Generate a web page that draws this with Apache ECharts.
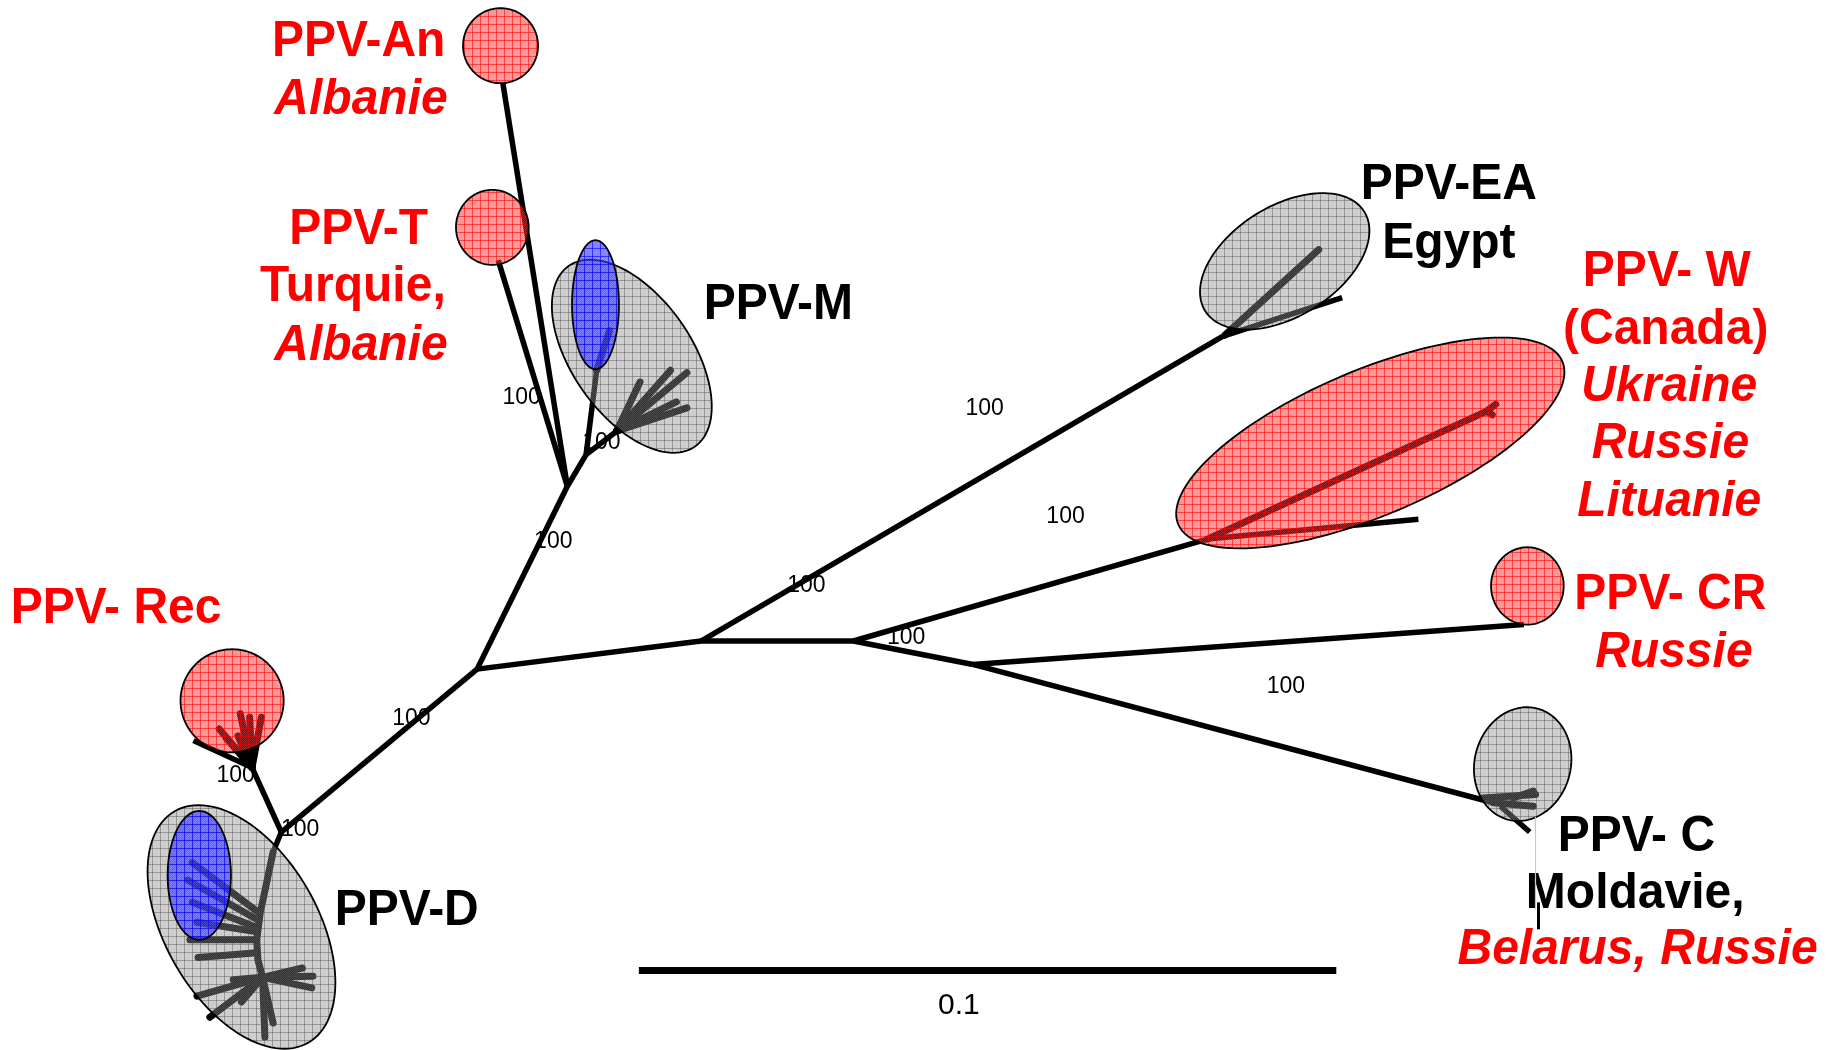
<!DOCTYPE html>
<html><head><meta charset="utf-8">
<script src="https://cdn.jsdelivr.net/npm/echarts@6/dist/echarts.min.js"></script>
<style>html,body{margin:0;padding:0;background:#fff;}#c{width:1838px;height:1050px;}</style>
</head><body><div id="c"></div>
<script>
// ---- data (tree-space units: x 0..1568, y 0..896, y grows downward) ----
const mainBranches = [
  [[598,547],[728,547]],
  [[598,547],[407,571]],
  [[598,547],[1043,287]],
  [[1043,287],[1145,254]],
  [[728,547],[1030,460]],
  [[1030,460],[1210,443]],
  [[728,547],[830,567]],
  [[830,567],[1300,533]],
  [[830,567],[1274,685]],
  [[407,571],[484,415]],
  [[484,415],[429,71]],
  [[484,415],[425,222]],
  [[484,415],[500,388]],
  [[500,388],[526,368]],
  [[500,388],[509,316]],
  [[407,571],[240,710]],
  [[240,710],[215,655]],
  [[215,655],[165,632]],
  [[240,710],[233,727]],
  [[1280,688],[1305,710]]
];
const cladeBranches = [
  [[509,316],[520,282]],
  [[526,368],[546,326]], [[526,368],[572,316]], [[526,368],[586,318]], [[526,368],[577,343]], [[526,368],[586,348]],
  [[215,655],[205,609]], [[215,655],[213,612]], [[215,655],[223,612]], [[215,655],[187,622]], [[215,655],[193,630]], [[215,655],[203,628]],
  [[233,727],[222,779],[219,802],[220,819],[224,834]],
  [[221,779],[164,736]], [[220,785],[160,751]], [[218,791],[164,770]], [[218,795],[168,787]], [[219,802],[162,802]], [[219,813],[169,817]],
  [[224,834],[168,850]], [[224,834],[179,868]], [[224,834],[267,833]], [[224,834],[266,843]], [[224,834],[226,885]],
  [[224,834],[233,873]], [[224,834],[206,855]], [[224,834],[199,836]], [[224,834],[258,826]],
  [[1045,286],[1125,213]],
  [[1030,460],[1268,351]], [[1268,351],[1276,345]], [[1268,351],[1273,354]],
  [[1265,681],[1310,678]], [[1274,685],[1308,688]], [[1291,681],[1308,675]]
];
// clade name, centre x, centre y, radius a, radius b, tilt (deg), group
const clades = [
  ['PPV-M', 539,304, 94,51, 55, 'grey'],
  ['PPV-M (sub)', 508,260, 20,55, 0, 'blue'],
  ['PPV-D', 206,791, 114,65, 60, 'grey'],
  ['PPV-D (sub)', 170,747, 27,55, 0, 'blue'],
  ['PPV-An', 427,39, 32,32, 0, 'red'],
  ['PPV-T', 420,194, 31,32, 0, 'red'],
  ['PPV-Rec', 198,598, 44,44, 0, 'red'],
  ['PPV-EA', 1096,223, 80,47, -32, 'grey'],
  ['PPV-W', 1169,378, 178,62, -23, 'red'],
  ['PPV-CR', 1303,500, 31,33, 0, 'red'],
  ['PPV-C', 1299,652, 49,41, -75, 'grey']
];
const redNames = [['PPV-An',306,36],['PPV-T',306,196],['Turquie,',301,245],['PPV- Rec',99,520],['PPV- W',1422,232],['(Canada)',1421,282],['PPV- CR',1425,508]];
const redCountries = [['Albanie',308,85],['Albanie',308,295],['Ukraine',1424,330],['Russie',1425,379],['Lituanie',1424,428],['Russie',1428,557],['Belarus, Russie',1397,811]];
const blackNames = [['PPV-M',664,260],['PPV-D',347,777],['PPV-EA',1236,158],['Egypt',1236,208],['PPV- C',1396,714],['Moldavie,',1395,763]];
const bootstrapValues = [100,100,100,100,100,100,100,100,100,100,100];
const bootstrapAt = [[445,339],[513,378],[472,462],[351,613],[201,662],[256,708],[840,349],[909,441],[688,500],[773,544],[1097,586]];
const scaleBar = [[545,828],[1140,828]];
const scaleValue = '0.1';
const scaleLabelAt = [818,858];
const cArtifactThin = [[1310,697],[1310,776]];
const cArtifactBold = [[1312,770],[1312,793]];

// ---- styles ----
function makePattern(base, dot, line){
  const s=8, cv=document.createElement('canvas'); cv.width=s; cv.height=s;
  const g=cv.getContext('2d');
  g.fillStyle=base; g.fillRect(0,0,s,s);
  g.fillStyle=dot; for(let i=0;i<s;i++)for(let j=0;j<s;j++) if((i+j)%2===0) g.fillRect(i,j,1,1);
  g.fillStyle=line; g.fillRect(0,0,s,1); g.fillRect(0,0,1,s);
  return {image: cv, repeat:'repeat'};
}
const fills = {
  grey: makePattern('rgba(125,125,125,0.40)','rgba(255,255,255,0.12)','rgba(70,70,70,0.40)'),
  red:  makePattern('rgba(255,30,30,0.50)','rgba(255,255,255,0.12)','rgba(255,0,0,0.55)'),
  blue: makePattern('rgba(40,40,255,0.60)','rgba(255,255,255,0.10)','rgba(0,0,255,0.6)')
};
const FONT = "'Liberation Sans', Arial, Helvetica, sans-serif";
const textGroups = [
  {items: redNames, fill:'#ff0000', font:'bold 48px '+FONT},
  {items: redCountries, fill:'#ff0000', font:'italic bold 48px '+FONT},
  {items: blackNames, fill:'#000000', font:'bold 48px '+FONT}
];

function ellipsePoints(c, api){
  const cx=c[1], cy=c[2], a=c[3], b=c[4], th=c[5]*Math.PI/180;
  const ct=Math.cos(th), st=Math.sin(th), pts=[];
  for(let i=0;i<120;i++){
    const t=i/120*2*Math.PI, ex=a*Math.cos(t), ey=b*Math.sin(t);
    pts.push(api.coord([cx+ex*ct-ey*st, cy+ex*st+ey*ct]));
  }
  return pts;
}
function textSeries(group, z){
  return {
    type:'custom', coordinateSystem:'cartesian2d', z:z, silent:true,
    data: group.items.map(d=>[d[1],d[2]]),
    renderItem:(params, api)=>{
      const d=group.items[params.dataIndex], p=api.coord([d[1],d[2]]);
      return {type:'text', x:p[0], y:p[1], scaleY:1.06, style:{text:d[0], fill:group.fill, font:group.font, align:'center', verticalAlign:'middle'}};
    }
  };
}

const chart = echarts.init(document.getElementById('c'), null, {renderer:'canvas'});
const series = [
  { // bootstrap values (below branches)
    type:'custom', coordinateSystem:'cartesian2d', z:1, silent:true,
    data: bootstrapAt.map(p=>[p[0],p[1]]),
    renderItem:(params, api)=>{
      const p=api.coord(bootstrapAt[params.dataIndex]);
      return {type:'text', x:p[0], y:p[1], style:{text:String(bootstrapValues[params.dataIndex]), fill:'#000', font:'23px '+FONT, align:'center', verticalAlign:'middle'}};
    }
  },
  { type:'lines', coordinateSystem:'cartesian2d', polyline:true, z:2, silent:true,
    lineStyle:{color:'#000', width:5.5, opacity:1, cap:'butt', join:'round'},
    data: mainBranches.map(c=>({coords:c})) },
  { type:'lines', coordinateSystem:'cartesian2d', polyline:true, z:2, silent:true,
    lineStyle:{color:'#000', width:7, opacity:1, cap:'round', join:'round'},
    data: cladeBranches.map(c=>({coords:c})) },
  { type:'custom', coordinateSystem:'cartesian2d', z:3, silent:true,
    data: clades.map(c=>[c[1],c[2]]),
    renderItem:(params, api)=>{
      const c=clades[params.dataIndex];
      return {type:'polygon', shape:{points: ellipsePoints(c, api)},
        style:{fill: fills[c[6]], stroke:'#000', lineWidth:1.8}};
    }
  },
  textSeries(textGroups[0], 4), textSeries(textGroups[1], 4), textSeries(textGroups[2], 4),
  { type:'lines', coordinateSystem:'cartesian2d', z:5, silent:true,
    lineStyle:{color:'#000', width:7, opacity:1, cap:'butt'},
    data:[{coords: scaleBar}] },
  { type:'custom', coordinateSystem:'cartesian2d', z:5, silent:true,
    data:[scaleLabelAt],
    renderItem:(params, api)=>{
      const p=api.coord(scaleLabelAt);
      return {type:'text', x:p[0], y:p[1], style:{text:scaleValue, fill:'#000', font:'30px '+FONT, align:'center', verticalAlign:'middle'}};
    }
  },
  { type:'lines', coordinateSystem:'cartesian2d', z:6, silent:true,
    lineStyle:{color:'#c8c8c8', width:1.2, opacity:1}, data:[{coords: cArtifactThin}] },
  { type:'lines', coordinateSystem:'cartesian2d', z:6, silent:true,
    lineStyle:{color:'#000', width:3, opacity:1}, data:[{coords: cArtifactBold}] }
];
chart.setOption({
  animation:false,
  backgroundColor:'#ffffff',
  grid:{left:0,right:0,top:0,bottom:0},
  xAxis:{type:'value', min:0, max:1568, show:false},
  yAxis:{type:'value', min:0, max:896, inverse:true, show:false},
  series: series
});
</script></body></html>
